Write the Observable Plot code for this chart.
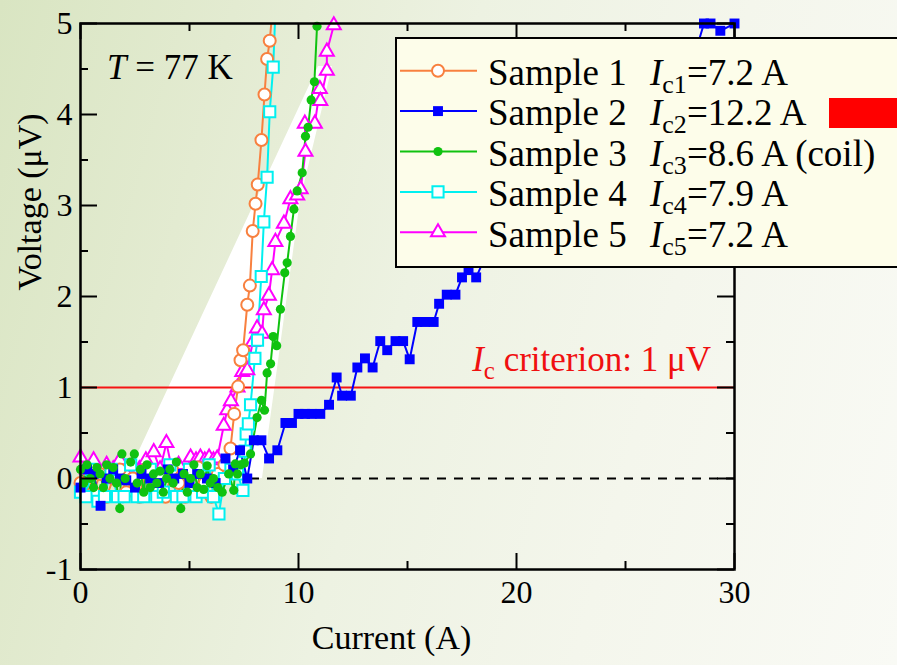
<!DOCTYPE html>
<html>
<head>
<meta charset="utf-8">
<script src="https://cdn.jsdelivr.net/npm/d3@7"></script>
<script src="https://cdn.jsdelivr.net/npm/@observablehq/plot@0.6"></script>
<style>
html,body{margin:0;padding:0;width:897px;height:665px;overflow:hidden;}
#wrap{position:relative;width:897px;height:665px;overflow:hidden;
  background:linear-gradient(105deg,#d9e5c2 0%,#e3ebd1 22%,#edf2e2 45%,#f4f6ec 70%,#f9faf5 100%);}
#streak{position:absolute;left:0;top:0;width:897px;height:665px;background:#ffffff;
  clip-path:polygon(126px 478px,318px 66px,332px 66px,300px 200px,262px 478px);}
#chart{position:absolute;left:0;top:0;}
#over{position:absolute;left:0;top:0;pointer-events:none;}
</style>
</head>
<body>
<div id="wrap"><div id="streak"></div><div id="chart"></div><svg id="over" width="897" height="665"></svg></div>
<script>
// ---- data: [current (A), voltage (µV)] ----
const sample1 = [[0,-0.05],[0.3,0.1],[0.6,-0.15],[0.9,0.05],[1.2,-0.2],[1.5,0.0],[1.8,0.1],[2.1,-0.15],[2.4,0.0],[2.7,-0.2],[3.0,0.1],[3.3,-0.1],[3.6,0.05],[3.9,-0.2],[4.2,0.1],[4.5,-0.05],[4.8,-0.2],[5.1,0.1],[5.4,0.12],[5.7,-0.05],[6.0,-0.2],[6.3,0.05],[6.6,0.15],[6.88,0.33],[7.05,0.71],[7.23,1.01],[7.34,1.3],[7.46,1.41],[7.65,1.91],[7.77,2.12],[7.9,2.72],[8.03,3.02],[8.13,3.23],[8.3,3.72],[8.44,4.22],[8.56,4.61],[8.68,4.81],[8.9,5.4]];
const sample2 = [[0,-0.1],[0.3,0.1],[0.6,0.05],[0.92,-0.3],[1.2,0.0],[1.5,0.1],[1.8,0.0],[2.1,-0.02],[2.5,-0.1],[2.8,0.05],[3.2,0.0],[3.6,-0.05],[4.0,0.1],[4.3,0.0],[4.7,0.05],[5.0,-0.05],[5.35,0.05],[5.8,0.0],[6.2,-0.05],[6.65,0.22],[7.0,0.1],[7.32,0.31],[7.65,0.0],[7.95,0.42],[8.3,0.42],[8.65,0.22],[9.03,0.31],[9.4,0.61],[9.7,0.61],[10.0,0.71],[10.3,0.71],[10.6,0.71],[11.0,0.71],[11.4,0.81],[11.75,1.11],[12.0,0.91],[12.4,0.91],[12.7,1.22],[13.05,1.32],[13.4,1.22],[13.75,1.51],[14.07,1.41],[14.45,1.51],[14.8,1.51],[15.1,1.31],[15.45,1.72],[15.8,1.72],[16.2,1.72],[16.45,1.92],[16.8,2.02],[17.2,2.02],[17.5,2.21],[17.8,2.29],[18.15,2.21],[18.5,2.4],[18.9,2.5],[19.3,2.5],[19.7,2.6],[20.1,2.7],[20.5,2.7],[20.9,2.8],[21.3,2.9],[21.7,3.0],[22.1,3.0],[22.5,3.1],[22.9,3.2],[23.3,3.3],[23.7,3.3],[24.1,3.4],[24.5,3.5],[24.9,3.6],[25.3,3.7],[25.7,3.8],[26.1,3.9],[26.5,4.0],[26.9,4.1],[27.3,4.3],[27.7,4.4],[28.1,4.6],[28.6,5.0],[28.9,5.0],[29.35,4.92],[30.0,5.0]];
const sample3 = [[0,0.1],[0.15,-0.05],[0.3,0.15],[0.45,0.0],[0.6,-0.1],[0.75,0.12],[0.9,0.05],[1.05,-0.1],[1.2,0.15],[1.35,0.0],[1.5,0.12],[1.65,-0.05],[1.8,-0.33],[1.9,0.27],[2.05,0.0],[2.3,0.18],[2.47,0.27],[2.6,-0.05],[2.75,0.1],[2.9,-0.15],[3.05,0.15],[3.2,-0.1],[3.35,0.05],[3.5,-0.05],[3.65,0.08],[3.8,-0.15],[3.95,0.0],[4.1,0.1],[4.25,-0.05],[4.4,0.18],[4.6,-0.33],[4.75,0.05],[4.9,-0.15],[5.05,0.0],[5.2,0.15],[5.35,-0.1],[5.5,0.05],[5.65,-0.12],[5.81,0.14],[5.95,-0.05],[6.1,0.0],[6.3,-0.1],[6.5,-0.15],[6.8,0.05],[7.03,-0.13],[7.1,0.16],[7.2,0.05],[7.35,0.15],[7.52,0.17],[7.8,0.27],[8.1,0.67],[8.3,0.86],[8.44,0.75],[8.56,1.16],[8.72,1.26],[8.84,1.56],[9.0,1.46],[9.17,1.86],[9.37,2.26],[9.48,2.37],[9.63,2.66],[9.79,2.96],[9.94,3.16],[10.17,3.36],[10.32,3.76],[10.44,3.86],[10.58,4.16],[10.73,4.36],[10.85,4.97]];
const sample4 = [[0,-0.15],[0.25,-0.2],[0.5,0.1],[0.8,-0.25],[1.1,-0.2],[1.4,0.1],[1.7,-0.2],[2.0,-0.2],[2.3,0.15],[2.6,-0.2],[2.9,-0.2],[3.2,0.1],[3.5,-0.2],[3.8,-0.15],[4.1,0.15],[4.4,-0.2],[4.7,-0.2],[5.0,0.1],[5.3,-0.2],[5.6,-0.15],[5.9,0.15],[6.1,-0.2],[6.35,-0.39],[6.6,0.0],[6.9,0.1],[7.2,0.05],[7.45,-0.13],[7.55,0.3],[7.6,0.49],[7.7,0.6],[7.8,0.81],[8.0,1.32],[8.12,1.52],[8.29,2.22],[8.41,2.82],[8.56,3.31],[8.68,4.03],[8.84,4.52],[8.95,5.2]];
const sample5 = [[0,0.23],[0.3,0.1],[0.6,0.2],[0.9,0.05],[1.2,0.15],[1.5,0.1],[1.8,0.2],[2.1,0.05],[2.4,0.15],[2.7,0.1],[3.0,0.2],[3.36,0.29],[3.65,0.1],[3.94,0.39],[4.2,0.1],[4.5,0.15],[4.8,0.05],[5.05,0.23],[5.3,0.2],[5.5,0.23],[5.7,0.2],[5.9,0.23],[6.1,0.2],[6.27,0.22],[6.57,0.58],[6.73,0.75],[6.9,0.85],[7.2,1.0],[7.42,1.17],[7.65,1.19],[7.9,1.5],[8.1,1.65],[8.33,1.59],[8.41,1.85],[8.64,2.01],[8.79,2.29],[8.94,2.6],[9.33,2.8],[9.63,3.07],[9.94,3.11],[10.1,3.18],[10.32,3.59],[10.29,3.9],[10.75,3.9],[10.98,4.28],[11.0,4.15],[11.3,4.48],[11.3,4.69],[11.62,4.98]];

const sampleNames = ["Sample 1","Sample 2","Sample 3","Sample 4","Sample 5"];
const icSub = ["c1","c2","c3","c4","c5"];
const icText = ["=7.2 A","=12.2 A","=8.6 A (coil)","=7.9 A","=7.2 A"];
const colors = ["#f8803f","#0000ff","#10c210","#00f0f0","#ff00ff"];
const symbols = ["circle","square","circle","square","triangle"];
const filled = [false,true,true,false,false];
const radii = [6,5.6,4.6,6.3,5.2];
const drawOrder = [4,0,3,1,2];

const xTicksMajor = [0,10,20,30];
const xTicksMinor = [5,15,25];
const yTicksMajor = [-1,0,1,2,3,4,5];
const yTicksMinor = [-0.5,0.5,1.5,2.5,3.5,4.5];
const criterion = [1];
const zeroLine = [0];

const allSeries = [sample1,sample2,sample3,sample4,sample5];
const W = 897, H = 665, mL = 80, mR = 163, mT = 23, mB = 96;
const pW = W - mL - mR, pH = H - mT - mB;
const serif = "'Liberation Serif','Times New Roman',serif";

const marks = [
  Plot.ruleY(criterion, {y: d => d, stroke: "#f51414", strokeWidth: 2.2}),
  Plot.ruleY(zeroLine, {y: d => d, stroke: "#000", strokeWidth: 2, strokeDasharray: "9,8"})
];
for (const i of drawOrder) {
  const data = allSeries[i].map(([x, y]) => ({x, y}));
  marks.push(Plot.line(data, {x: "x", y: "y", stroke: colors[i], strokeWidth: 2, clip: true}));
}
for (const i of drawOrder) {
  const data = allSeries[i].map(([x, y]) => ({x, y})).filter(d => d.y <= 5.05);
  marks.push(Plot.dot(data, {x: "x", y: "y", symbol: symbols[i], r: radii[i],
    fill: filled[i] ? colors[i] : "#fff", stroke: colors[i], strokeWidth: filled[i] ? 0 : 2}));
}
marks.push(
  Plot.frame({stroke: "#000", strokeWidth: 2.5}),
  Plot.tickX(xTicksMajor, {x: d => d, insetTop: pH - 16, strokeWidth: 2}),
  Plot.tickX(xTicksMinor, {x: d => d, insetTop: pH - 8, strokeWidth: 2}),
  Plot.tickX(xTicksMajor, {x: d => d, insetBottom: pH - 16, strokeWidth: 2}),
  Plot.tickX(xTicksMinor, {x: d => d, insetBottom: pH - 8, strokeWidth: 2}),
  Plot.tickY(yTicksMajor, {y: d => d, insetRight: pW - 17, strokeWidth: 2}),
  Plot.tickY(yTicksMinor, {y: d => d, insetRight: pW - 8, strokeWidth: 2}),
  Plot.tickY(yTicksMajor, {y: d => d, insetLeft: pW - 17, strokeWidth: 2}),
  Plot.tickY(yTicksMinor, {y: d => d, insetLeft: pW - 8, strokeWidth: 2}),
  Plot.axisX({ticks: xTicksMajor, tickSize: 0, tickPadding: 11, fontSize: 32, fontFamily: serif, label: null, tickFormat: d => String(d), fill: "#000"}),
  Plot.axisY({ticks: yTicksMajor, tickSize: 0, tickPadding: 8, fontSize: 32, fontFamily: serif, label: null, tickFormat: d => String(d), fill: "#000"}),
  Plot.text(["Current (A)"], {frameAnchor: "bottom", dx: -16, dy: 79, fontSize: 34, fontFamily: serif, fill: "#000"}),
  Plot.text(["Voltage (\u03bcV)"], {frameAnchor: "left", dx: -50, dy: -6, rotate: -90, fontSize: 34, fontFamily: serif, fill: "#000"})
);

const chart = Plot.plot({
  width: W, height: H,
  marginLeft: mL, marginRight: mR, marginTop: mT, marginBottom: mB,
  x: {domain: [0, 30]},
  y: {domain: [-1, 5]},
  style: {background: "transparent", overflow: "visible", fontFamily: serif, color: "#000"},
  marks
});
document.getElementById("chart").appendChild(chart);

const xs = chart.scale("x"), ys = chart.scale("y");
const svg = d3.select(chart);
// T = 77 K
const tT = svg.append("text").attr("x", xs.apply(0) + 27).attr("y", ys.apply(5) + 56)
  .attr("text-anchor", "start").attr("font-family", serif).attr("font-size", 35).attr("fill", "#000");
tT.append("tspan").attr("font-style", "italic").text("T");
tT.append("tspan").text(" = 77 K");
// criterion label
const tc = svg.append("text").attr("x", xs.apply(30) - 23).attr("y", ys.apply(criterion[0]) - 16)
  .attr("text-anchor", "end").attr("font-family", serif).attr("font-size", 35).attr("fill", "#f01010");
tc.append("tspan").attr("font-style", "italic").text("I");
tc.append("tspan").attr("font-size", 25).attr("dy", 8).text("c");
tc.append("tspan").attr("dy", -8).text(" criterion: 1 \u03bcV");

// legend overlay
const over = d3.select("#over");
over.append("rect").attr("x", 396).attr("y", 38).attr("width", 540).attr("height", 229)
  .attr("fill", "#fdfdea").attr("stroke", "#000").attr("stroke-width", 2);
const symMap = {circle: d3.symbolCircle, square: d3.symbolSquare, triangle: d3.symbolTriangle};
sampleNames.forEach((name, i) => {
  const base = 85 + 40.4 * i;
  const ly = base - 14.3;
  over.append("line").attr("x1", 400).attr("x2", 477).attr("y1", ly).attr("y2", ly)
    .attr("stroke", colors[i]).attr("stroke-width", 2);
  over.append("path").attr("transform", `translate(438,${ly})`)
    .attr("d", d3.symbol(symMap[symbols[i]], Math.PI * radii[i] * radii[i])())
    .attr("fill", filled[i] ? colors[i] : "#fff").attr("stroke", colors[i]).attr("stroke-width", filled[i] ? 0 : 2);
  const t = over.append("text").attr("x", 488).attr("y", base).attr("font-family", serif).attr("font-size", 37).attr("fill", "#000");
  t.append("tspan").text(name);
  const t2 = over.append("text").attr("x", 650).attr("y", base).attr("font-family", serif).attr("font-size", 37).attr("fill", "#000");
  t2.append("tspan").attr("font-style", "italic").text("I");
  t2.append("tspan").attr("font-size", 26).attr("dy", 8).text(icSub[i]);
  t2.append("tspan").attr("dy", -8).text(icText[i]);
});
over.append("rect").attr("x", 829).attr("y", 98).attr("width", 70).attr("height", 30).attr("fill", "#ff0000");
</script>
</body>
</html>
